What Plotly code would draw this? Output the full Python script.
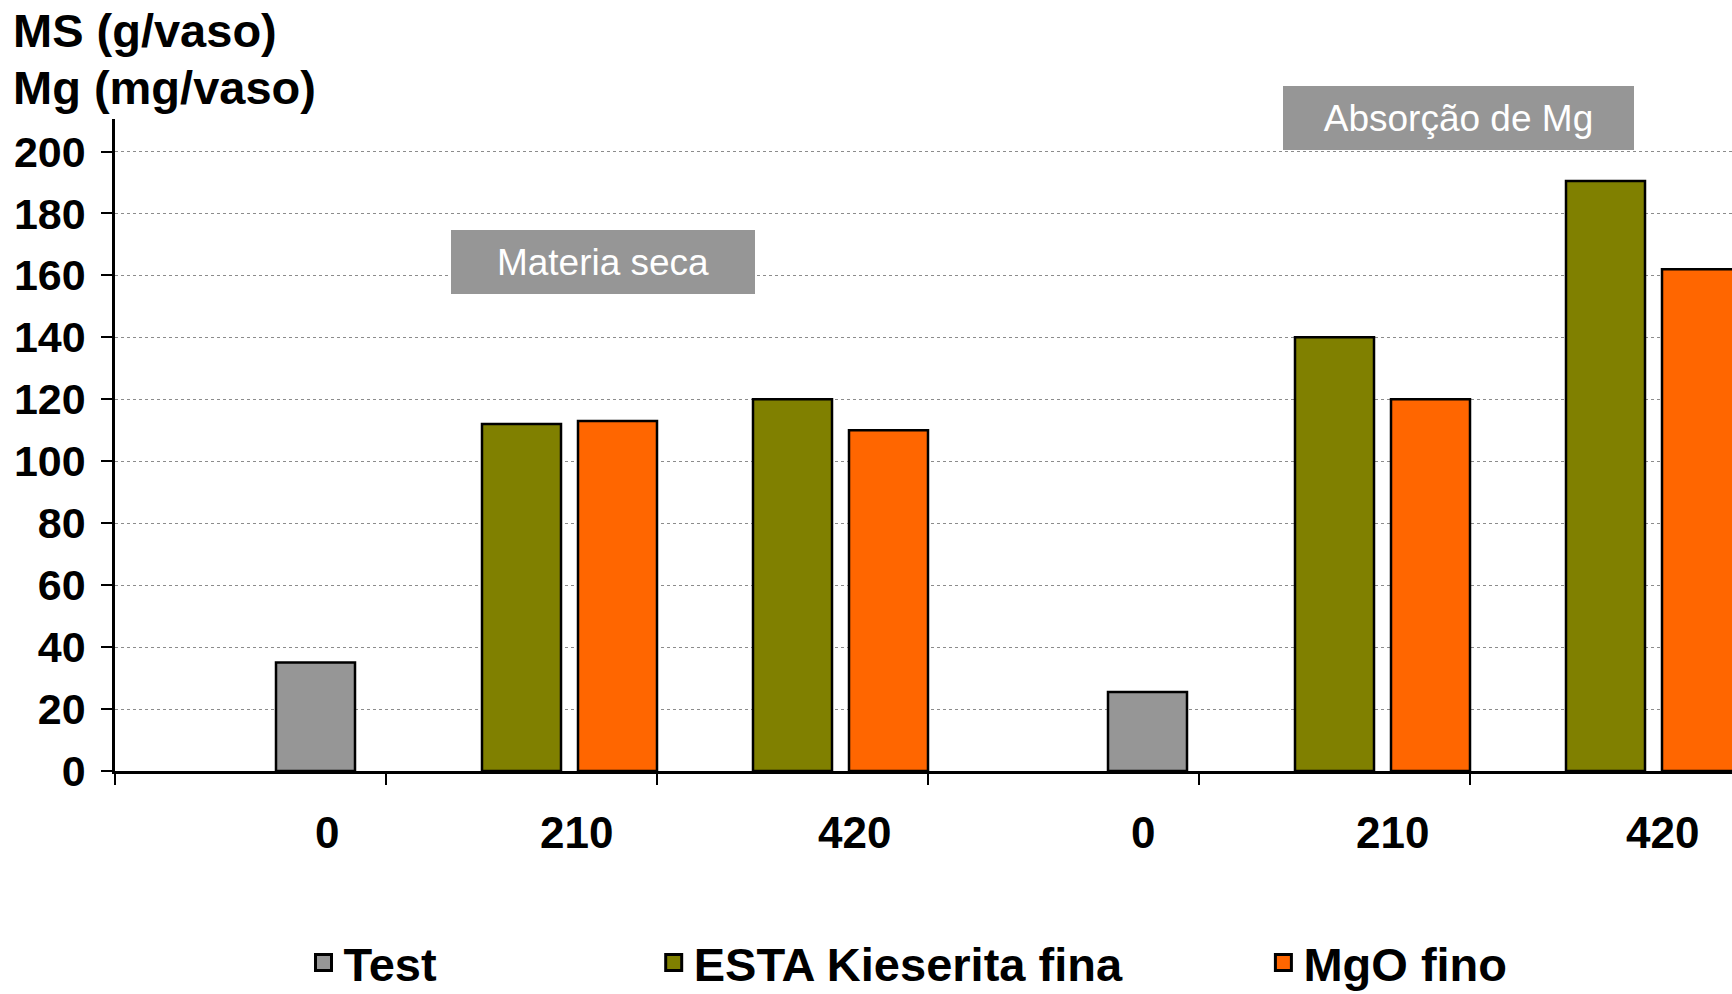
import plotly.graph_objects as go

# ---------------- data ----------------
groups = ["MS", "MS", "MS", "Mg", "Mg", "Mg"]
dose_labels = ["0", "210", "420", "0", "210", "420"]
categories = [f"{g} {d}" for g, d in zip(groups, dose_labels)]

test_cats = ["MS 0", "Mg 0"]
test_vals = [35, 25.5]

esta_cats = ["MS 210", "MS 420", "Mg 210", "Mg 420"]
esta_vals = [112, 120, 140, 190.5]

mgo_cats = ["MS 210", "MS 420", "Mg 210", "Mg 420"]
mgo_vals = [113, 110, 120, 162]

series_names = ["Test", "ESTA Kieserita fina", "MgO fino"]
y_title_lines = ["MS (g/vaso)", "Mg (mg/vaso)"]
box_labels = ["Materia seca", "Absorção de Mg"]

# ---------------- style ----------------
W, H = 1732, 994
ML, MR, MT, MB = 115, 0, 119, 223
PW, PH = W - ML - MR, H - MT - MB
CAT_PX = 271.0  # pixel width of one category
BAR_W = 79 / CAT_PX

FONT = "Arial, Liberation Sans, Helvetica, sans-serif"
COLORS = ["#969696", "#808000", "#FF6600"]
EDGE = dict(color="black", width=2.5)


def px_x(X):
    return (X - ML) / PW


def px_y(Y):
    return (MT + PH - Y) / PH


fig = go.Figure()
fig.add_trace(go.Bar(
    x=test_cats, y=test_vals, name=series_names[0],
    marker=dict(color=COLORS[0], line=EDGE),
    width=BAR_W, offset=[25.5 / CAT_PX, 44.5 / CAT_PX], showlegend=False,
))
fig.add_trace(go.Bar(
    x=esta_cats, y=esta_vals, name=series_names[1],
    marker=dict(color=COLORS[1], line=EDGE),
    width=BAR_W, offset=-39.5 / CAT_PX, showlegend=False,
))
fig.add_trace(go.Bar(
    x=mgo_cats, y=mgo_vals, name=series_names[2],
    marker=dict(color=COLORS[2], line=EDGE),
    width=BAR_W, offset=56.5 / CAT_PX, showlegend=False,
))
# legend entries (large square swatches)
for name, col, leg in zip(series_names, COLORS, ["legend", "legend2", "legend3"]):
    fig.add_trace(go.Scatter(
        x=[None], y=[None], mode="markers", name=name, legend=leg,
        marker=dict(symbol="square", size=16, color=col,
                    line=dict(color="black", width=3)),
        hoverinfo="skip",
    ))

x_range = [-0.5, -0.5 + PW / CAT_PX]
y_range = [0, 210.5]

annotations = []
# x tick labels (text boxes offset to the right of category centres)
label_shift = [76.5, 54.5, 62, 79.5, 57.5, 56.5]
for cat, lab, sh in zip(categories, dose_labels, label_shift):
    annotations.append(dict(
        x=cat, xref="x", y=0, yref="paper", yanchor="middle", xanchor="center",
        yshift=-61, xshift=sh, text=lab, showarrow=False,
        font=dict(family=FONT, size=44, color="black", weight="bold"),
    ))
# axis title lines
for line, yc in zip(y_title_lines, [31, 88]):
    annotations.append(dict(
        x=px_x(11), xref="paper", y=px_y(yc), yref="paper",
        xanchor="left", yanchor="middle", text=line, showarrow=False,
        font=dict(family=FONT, size=47, color="black", weight="bold"),
    ))
# grey boxes
for txt, cx, cy, bw in zip(box_labels, [603, 1458.5], [262, 118], [304, 351]):
    annotations.append(dict(
        x=px_x(cx), xref="paper", y=px_y(cy), yref="paper",
        xanchor="center", yanchor="middle", text=txt, showarrow=False,
        width=bw, height=64, bgcolor="#969696", borderpad=0, borderwidth=0,
        font=dict(family=FONT, size=37, color="white"),
    ))

leg_common = dict(
    orientation="h", yanchor="middle", xanchor="left", y=px_y(963),
    bgcolor="rgba(0,0,0,0)", borderwidth=0,
    font=dict(family=FONT, size=47, color="black", weight="bold"),
)

fig.update_layout(
    width=W, height=H,
    margin=dict(l=ML, r=MR, t=MT, b=MB, pad=0, autoexpand=False),
    paper_bgcolor="white", plot_bgcolor="white",
    barmode="overlay",
    showlegend=True,
    legend=dict(x=px_x(303.5), **leg_common),
    legend2=dict(x=px_x(653.7), **leg_common),
    legend3=dict(x=px_x(1263.4), **leg_common),
    xaxis=dict(
        type="category", categoryorder="array", categoryarray=categories,
        range=x_range, showticklabels=False, showgrid=False, zeroline=False,
        ticks="outside", tickson="boundaries", ticklen=11, tickwidth=2, tickcolor="black",
        showline=True, linewidth=2.5, linecolor="black",
    ),
    xaxis2=dict(
        type="category", categoryorder="array", categoryarray=categories,
        overlaying="x", anchor="y", side="bottom", range=x_range,
        tickmode="array", tickvals=esta_cats, showticklabels=False,
        ticks="inside", ticklen=8, tickwidth=2, tickcolor="black",
        showgrid=False, showline=False, zeroline=False,
    ),
    yaxis=dict(
        range=y_range, dtick=20, tick0=0,
        ticks="outside", ticklen=11, tickwidth=2, tickcolor="black",
        showline=True, linewidth=2.5, linecolor="black",
        showgrid=True, gridcolor="#8c8c8c", gridwidth=1, griddash="dot",
        zeroline=False, ticklabelstandoff=7,
        tickfont=dict(family=FONT, size=43, color="black", weight="bold"),
    ),
    yaxis2=dict(
        overlaying="y", anchor="x", side="left", range=y_range, dtick=10, tick0=0,
        ticks="inside", ticklen=8, tickwidth=2, tickcolor="black",
        showticklabels=False, showgrid=False, showline=False, zeroline=False,
    ),
    annotations=annotations,
)

fig.write_html("out.html")
